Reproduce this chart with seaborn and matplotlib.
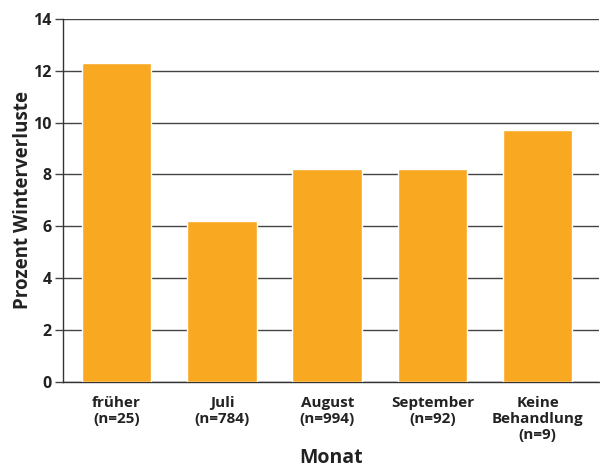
import matplotlib
matplotlib.use("Agg")
import matplotlib.pyplot as plt
import seaborn as sns
import pandas as pd

# === Data ===
monate = ["früher\n(n=25)", "Juli\n(n=784)", "August\n(n=994)",
          "September\n(n=92)", "Keine\nBehandlung\n(n=9)"]
verluste = [12.3, 6.2, 8.2, 8.2, 9.7]

df = pd.DataFrame({"Monat": monate, "Verluste": verluste})

# === Style ===
sns.set_theme(style="white")
plt.rcParams['font.family'] = ['Open Sans', 'DejaVu Sans']
plt.rcParams['font.weight'] = 'bold'

fig = plt.figure(figsize=(6, 4.71), dpi=100)
ax = fig.add_axes([0.105, 0.189, 0.893, 0.771])

sns.barplot(data=df, x="Monat", y="Verluste", color="#F9A822",
            saturation=1, width=0.66, ax=ax, zorder=3)

ax.set_ylim(0, 14)
ax.set_yticks(range(0, 15, 2))
ax.set_xlim(-0.51, 4.58)
ax.yaxis.grid(True, color="#444444", linewidth=1.0, zorder=0)
ax.set_axisbelow(True)

for s in ["top", "right"]:
    ax.spines[s].set_visible(False)
for s in ["left", "bottom"]:
    ax.spines[s].set_color("#333333")
    ax.spines[s].set_linewidth(1.0)

ax.tick_params(axis="y", left=True, length=6, width=1, color="#444444",
               labelsize=11.5, labelcolor="#222222", pad=2)
ax.tick_params(axis="x", bottom=False, labelsize=11, labelcolor="#222222", pad=4)
for lbl in ax.get_yticklabels() + ax.get_xticklabels():
    lbl.set_fontweight("bold")
for lbl in ax.get_xticklabels():
    lbl.set_linespacing(1.2)

ax.set_xlabel("Monat", fontsize=14, fontweight="bold", color="#222222", labelpad=4)
ax.set_ylabel("Prozent Winterverluste", fontsize=13.5, fontweight="bold",
              color="#222222", labelpad=0)

plt.savefig("out.png", dpi=100)
